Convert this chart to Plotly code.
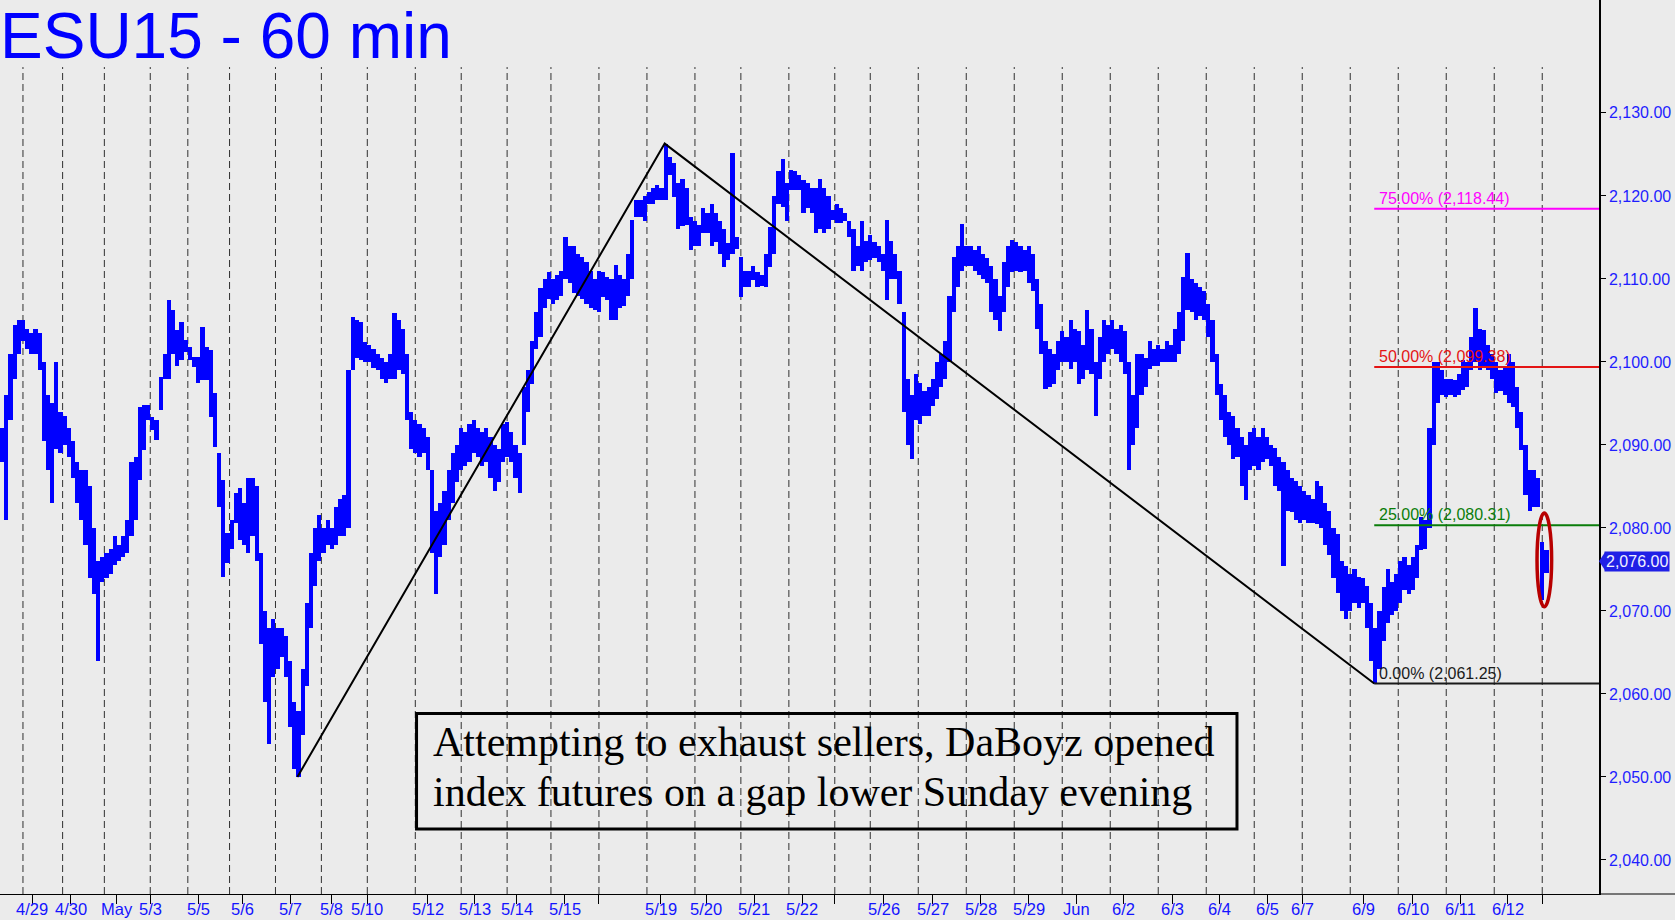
import plotly.graph_objects as go

# ---------------- data (2-hour slots of the ESU15 60-min bars) ----------------
bar_high = [
    2092, 2096, 2101, 2104.5, 2105, 2105, 2104, 2103.5, 2104, 2103.5,
    2100, 2096, 2095, 2100, 2094, 2093.5, 2092, 2090.5, 2088, 2087,
    2087, 2085, 2080, 2076, 2076.5, 2077, 2077.5, 2079, 2078, 2079,
    2081, 2088, 2088.5, 2094.6, 2094.8, 2094.8, 2093.4, 2093, 2098.2, 2101,
    2107.5, 2106.3, 2103.9, 2104.8, 2102.6, 2101.8, 2100.6, 2100.6, 2104.2, 2101.8,
    2101.4, 2096.3, 2089, 2085.8, 2079.4, 2081, 2084.2, 2084.8, 2083, 2086,
    2086, 2085, 2077, 2070, 2068, 2069, 2068, 2068, 2067, 2064,
    2059, 2058, 2063, 2071, 2077, 2080, 2081.5, 2080, 2081, 2080,
    2082.5, 2083.5, 2084, 2099, 2105.4, 2105, 2104.8, 2102.4, 2102, 2101.5,
    2101, 2100.5, 2100, 2101, 2105.9, 2105, 2104, 2101, 2094, 2093,
    2092.5, 2092, 2091, 2087, 2082, 2083, 2084.5, 2087, 2089, 2090,
    2092, 2091.5, 2092.5, 2093, 2092, 2091.5, 2092, 2091, 2090, 2089.5,
    2092.5, 2092.8, 2091.5, 2090, 2089, 2097, 2099, 2102.5, 2106, 2108.9,
    2110, 2110.8, 2110, 2110.5, 2111, 2115, 2114, 2114, 2113, 2112.7,
    2112, 2111, 2110, 2111, 2110.8, 2110.2, 2110, 2111.7, 2110.5, 2110,
    2113, 2117.1, 2119.5, 2119.5, 2120, 2120.5, 2121, 2121.3, 2121, 2126.3,
    2124.7, 2124, 2121.6, 2122, 2121, 2117.5, 2117, 2116.5, 2118.6, 2118,
    2119, 2118, 2117, 2116, 2114.3, 2125.2, 2115, 2112.7, 2111, 2111,
    2111.6, 2110.8, 2110.5, 2113, 2116.3, 2120, 2123, 2124.5, 2121.6, 2123.1,
    2123, 2122.5, 2121.9, 2121.5, 2121, 2121, 2122, 2121, 2120, 2118.3,
    2119, 2118.5, 2118, 2117, 2116, 2114, 2117, 2114.6, 2115.3, 2114.5,
    2114, 2113, 2117.1, 2114.6, 2113, 2111, 2106, 2098, 2096, 2098.6,
    2097.5, 2096.5, 2097, 2098, 2100, 2101, 2102.5, 2108, 2112.7, 2114,
    2116.6, 2114, 2114, 2113.5, 2114, 2113, 2112.5, 2111.5, 2110, 2108,
    2112, 2114, 2114.7, 2114.5, 2114, 2113.5, 2114, 2113, 2110, 2107,
    2102.5, 2101.5, 2101, 2102.5, 2103.7, 2103, 2105, 2104, 2103.7, 2102,
    2106.3, 2104, 2100, 2103, 2105, 2104.5, 2105, 2104, 2104.5, 2103.7,
    2100, 2096, 2101, 2101, 2100.5, 2102.5, 2101.5, 2102, 2101.5, 2102.5,
    2102, 2104, 2106, 2110.2, 2113.1, 2110, 2109.5, 2109, 2108.5, 2107,
    2105, 2101, 2097.3, 2096, 2094, 2093.5, 2092, 2091, 2090, 2091.5,
    2092, 2091, 2092, 2091, 2090, 2089.6, 2088.5, 2088, 2087, 2086,
    2085.7, 2085, 2084.5, 2084, 2083.5, 2085.7, 2085, 2083, 2082, 2080,
    2079.3, 2076, 2075.4, 2074.5, 2075, 2074.1, 2074, 2073, 2071, 2068,
    2070, 2072.9, 2075, 2073.5, 2074.5, 2076, 2076.5, 2075.5, 2076.5, 2078,
    2081.3, 2081, 2092, 2100, 2100, 2099, 2098, 2098, 2097.8, 2098.5,
    2100.2, 2100, 2103, 2106.5, 2104, 2103.9, 2102, 2101, 2100, 2099,
    2099.5, 2101, 2100, 2097, 2094, 2090, 2087, 2087, 2086, 2078.3, 2077.4,
]
bar_low = [
    2088, 2081, 2093, 2098, 2101, 2102.5, 2101.5, 2101, 2101, 2099,
    2090.5, 2087, 2083, 2089.5, 2089, 2090, 2088.5, 2086, 2083, 2081,
    2078, 2074, 2072, 2064, 2073.5, 2074, 2074.5, 2075.5, 2076, 2076.5,
    2077, 2079, 2081, 2085.8, 2089.4, 2093, 2091.8, 2090.6, 2094.2, 2098,
    2098, 2101, 2099.5, 2100.2, 2101.2, 2100.2, 2099.4, 2097.5, 2097.8, 2097.8,
    2093.4, 2089.8, 2082.5, 2074.1, 2075.8, 2077.5, 2080.6, 2078.6, 2078, 2077,
    2079, 2076, 2066, 2059, 2054, 2062, 2063, 2064.5, 2062, 2056,
    2051, 2050, 2055, 2061, 2068, 2073, 2076, 2077, 2078, 2077.5,
    2078, 2079, 2079, 2080, 2099, 2100.5, 2100.2, 2100, 2100, 2099.3,
    2099, 2098, 2097.5, 2098, 2098, 2099, 2098.5, 2093, 2089.5, 2089,
    2088.5, 2089, 2087, 2077, 2072, 2076.5, 2078, 2081, 2083, 2085.5,
    2087, 2087.5, 2088, 2089, 2088.5, 2087.5, 2088, 2086, 2084.5, 2085.5,
    2088, 2088.5, 2088, 2086, 2084.2, 2090, 2094, 2097.3, 2101.5, 2103,
    2106.5, 2107.6, 2107, 2107.5, 2108, 2110, 2109.5, 2108.3, 2108, 2107.6,
    2107, 2106.5, 2106.3, 2106, 2107.8, 2107.5, 2105, 2105, 2106.5, 2106.7,
    2108, 2110, 2117.5, 2117.5, 2117, 2119, 2119, 2119.5, 2119.5, 2119.5,
    2122.5, 2119.9, 2116, 2116.4, 2116.5, 2113.5, 2114, 2114, 2115.5, 2115.5,
    2114, 2114.5, 2113, 2111.4, 2112.3, 2113, 2113.6, 2107.8, 2109, 2109,
    2109.9, 2109, 2109.2, 2109, 2111.4, 2113, 2119, 2118.7, 2117, 2120.7,
    2120.7, 2120.7, 2118, 2118.5, 2118, 2115.5, 2116, 2115.5, 2116, 2117.1,
    2116.7, 2116.7, 2117, 2115, 2111, 2111.5, 2111, 2112, 2112.3, 2112.5,
    2112, 2111, 2107.5, 2110, 2110, 2107, 2094, 2090, 2088.3, 2093,
    2092.5, 2093.5, 2093.5, 2094.7, 2095.5, 2097, 2098, 2100, 2106, 2109,
    2111, 2111.5, 2111.5, 2111, 2110.5, 2110, 2109.5, 2106, 2105, 2103.7,
    2106, 2109, 2110.8, 2111, 2110.8, 2111, 2109.5, 2108.5, 2104, 2101,
    2096.7, 2097, 2097.3, 2099, 2100, 2100, 2099.2, 2100, 2097.3, 2098,
    2099, 2098.6, 2093.5, 2098, 2100, 2101, 2101.5, 2101, 2100, 2098.6,
    2087, 2090, 2092, 2096, 2097, 2099.2, 2099.5, 2099.5, 2100, 2100,
    2100, 2100, 2101, 2102.5, 2106.3, 2106, 2105, 2105.5, 2105, 2103,
    2100, 2096, 2093, 2090.9, 2090, 2088.3, 2088.5, 2085, 2083.4, 2087,
    2087.5, 2087, 2088, 2088.3, 2087.5, 2085, 2084.5, 2075.4, 2082, 2081.9,
    2081, 2080.6, 2081, 2080.6, 2080.6, 2080.5, 2080, 2078, 2076.7, 2074,
    2072.2, 2070, 2069, 2070, 2071, 2070.3, 2071, 2068, 2064, 2061.25,
    2063, 2066.4, 2068.6, 2069.5, 2070, 2071, 2072.5, 2072, 2072.5, 2074,
    2077.3, 2077.5, 2080, 2090, 2095, 2096, 2095.8, 2096, 2095.8, 2096,
    2096.6, 2097, 2099, 2100, 2099, 2099.5, 2099, 2098, 2096.3, 2096.5,
    2096, 2095, 2094.6, 2092, 2089.4, 2084, 2082, 2082.5, 2082.5, 2071.3, 2074.6,
]
bars_per_slot = 2
last_close = 2076.00

# hourly-bar index of each session open (18:00 ET) and of the date labels
session_open_bar = [11, 30, 50, 72, 90, 110, 132, 154, 176, 199, 221, 243, 264, 287, 310, 333,
                    355, 378, 400, 417, 440, 463, 486, 509, 532, 555, 578, 601, 624, 647, 670,
                    693, 716, 739]
tick_bar = [15.5, 34, 56, 72, 95, 116, 139, 159, 176, 205, 227.5, 247.5, 270.5, 287, 316.5,
            338.5, 361.5, 384.5, 400, 423.5, 447, 470, 493, 516, 538.5, 562, 584.5, 607.5, 624,
            653.5, 677, 700, 722.5, 739]
tick_label = ['4/29', '4/30', 'May', '5/3', '5/5', '5/6', '5/7', '5/8', '5/10', '5/12', '5/13',
              '5/14', '5/15', '', '5/19', '5/20', '5/21', '5/22', '', '5/26', '5/27', '5/28',
              '5/29', 'Jun', '6/2', '6/3', '6/4', '6/5', '6/7', '6/9', '6/10', '6/11', '6/12', '']
price_ticks = [2040, 2050, 2060, 2070, 2080, 2090, 2100, 2110, 2120, 2130]

fib_low = 2061.25
fib_high = 2137.50
fib_pct = [0, 25, 50, 75]
fib_color = ['#1a1a1a', '#0a7d0a', '#e41414', '#ff00ff']

title_text = 'ESU15 - 60 min'
note_lines = ['Attempting to exhaust sellers, DaBoyz opened',
              'index futures on a gap lower Sunday evening']

# ---------------- figure ----------------
BG = '#ebebeb'
BLUE = '#0000ff'
X_MAX = 766.2
Y_MIN, Y_MAX = 2035.9, 2143.6

n = len(bar_high)
xs = [bars_per_slot * k + 1 for k in range(n)]
heights = [max(h - l, 0.25) for h, l in zip(bar_high, bar_low)]

fig = go.Figure()
fig.add_trace(go.Bar(x=xs, y=heights, base=bar_low, width=bars_per_slot,
                     marker=dict(color=BLUE, line=dict(width=0)), hoverinfo='skip',
                     showlegend=False))

i_lo1 = min(range(n), key=lambda k: bar_low[k])
i_hi = max(range(n), key=lambda k: bar_high[k])
i_lo2 = min(range(i_hi, n), key=lambda k: bar_low[k])
zig_x = [bars_per_slot * i + 0.5 for i in (i_lo1, i_hi, i_lo2)]
zig_y = [bar_low[i_lo1], bar_high[i_hi], bar_low[i_lo2]]
fig.add_trace(go.Scatter(x=zig_x, y=zig_y, mode='lines', line=dict(color='black', width=2),
                         hoverinfo='skip', showlegend=False))

shapes = []
annotations = []

# session separators
for s in session_open_bar:
    shapes.append(dict(type='line', xref='x', yref='paper', x0=s, x1=s, y0=0, y1=0.925,
                       line=dict(color='#303030', width=1, dash='7px,4px'), layer='below'))

# date labels under the tick marks
for tb, tl in zip(tick_bar, tick_label):
    if tl:
        annotations.append(dict(xref='x', yref='paper', x=tb, y=0, xanchor='center',
                                yanchor='middle', yshift=-15, showarrow=False, text=tl,
                                font=dict(family='Liberation Sans, Arial', size=16.5,
                                          color='#1414ff')))

# fibonacci levels
for p, c in zip(fib_pct, fib_color):
    lvl = fib_low + p / 100.0 * (fib_high - fib_low)
    shapes.append(dict(type='line', xref='x', yref='y', x0=zig_x[2], x1=X_MAX, y0=lvl, y1=lvl,
                       line=dict(color=c, width=2)))
    annotations.append(dict(xref='x', yref='y', x=zig_x[2] + 1.5, y=lvl, xanchor='left',
                            yanchor='bottom', showarrow=False,
                            text=f'{p:.2f}% ({lvl:,.2f})',
                            font=dict(family='Liberation Sans, Arial', size=16, color=c)))

# ellipse around the Sunday-evening gap bars
last_open = session_open_bar[-1]
sun = [k for k in range(n) if xs[k] >= last_open]
shapes.append(dict(type='circle', xref='x', yref='y',
                   x0=bars_per_slot * sun[0] - 1.5, x1=bars_per_slot * (sun[-1] + 1) + 1.5,
                   y0=min(bar_low[k] for k in sun) - 0.8, y1=max(bar_high[k] for k in sun) + 3.5,
                   line=dict(color='#b80000', width=3.5)))

# x-axis line continuing under the price scale
shapes.append(dict(type='line', xref='paper', yref='paper', x0=1, x1=1.06, y0=0, y1=0,
                   line=dict(color='black', width=1)))

# last price marker
shapes.append(dict(type='path', xref='paper', yref='y', xsizemode='pixel', ysizemode='pixel',
                   xanchor=1, yanchor=last_close, path='M 0,0 L 6,9 L 6,-9 Z',
                   fillcolor='#2020e6', line=dict(width=0)))
annotations.append(dict(xref='paper', yref='y', x=1, y=last_close, xanchor='left', yanchor='middle',
                        xshift=5, showarrow=False, text=f'{last_close:,.2f}', bgcolor='#2020e6',
                        borderpad=1,
                        font=dict(family='Liberation Sans, Arial', size=16, color='#f0f0ff')))

# title
annotations.append(dict(xref='paper', yref='paper', x=0, y=0.9614, xanchor='left', yanchor='middle',
                        xshift=-1, yshift=-1.5, showarrow=False, text=title_text, borderpad=0,
                        font=dict(family='Liberation Sans, Arial', size=64, color=BLUE)))

# comment box
shapes.append(dict(type='rect', xref='paper', yref='paper', x0=0.2605, x1=0.7736, y0=0.0727,
                   y1=0.2018, line=dict(color='black', width=3)))
for txt, yy in zip(note_lines, [0.170, 0.114]):
    annotations.append(dict(xref='paper', yref='paper', x=0.2698, y=yy, xanchor='left',
                            yanchor='middle', showarrow=False, text=txt,
                            font=dict(family='Liberation Serif, Times New Roman', size=42,
                                      color='black')))

fig.update_layout(
    width=1675, height=920,
    margin=dict(l=0, r=76, t=0, b=26, pad=0),
    paper_bgcolor=BG, plot_bgcolor=BG,
    showlegend=False, bargap=0,
    shapes=shapes, annotations=annotations,
    xaxis=dict(range=[0, X_MAX], tickmode='array', tickvals=tick_bar,
               ticks='outside', ticklen=9, tickwidth=1, tickcolor='black', showticklabels=False,
               showline=True, linecolor='black', linewidth=1, showgrid=False, zeroline=False,
               automargin=False, fixedrange=True),
    yaxis=dict(range=[Y_MIN, Y_MAX], side='right', tickmode='array', tickvals=price_ticks,
               ticktext=[f'{v:,.2f}' for v in price_ticks], ticks='outside', ticklen=5,
               tickwidth=1, tickcolor='black',
               tickfont=dict(family='Liberation Sans, Arial', size=16, color='#1e1eff'),
               showline=True, linecolor='black', linewidth=1.5, showgrid=False, zeroline=False,
               automargin=False, fixedrange=True),
)

fig.write_html('out.html', config={'displayModeBar': False},
               post_script="document.body.style.margin='0px';document.body.style.overflow='hidden';")
